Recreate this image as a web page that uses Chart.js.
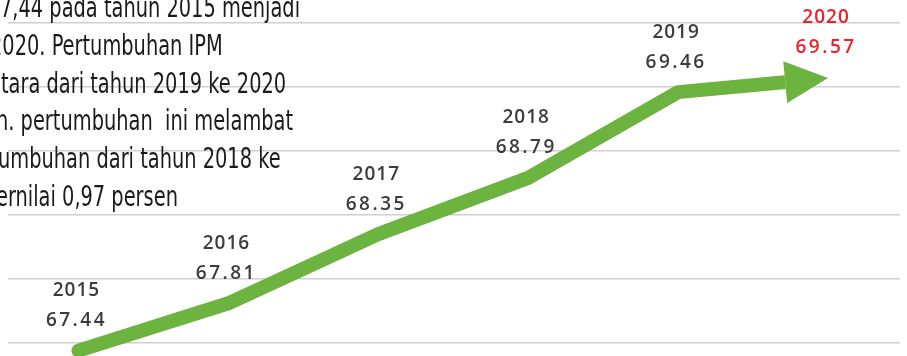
<!DOCTYPE html>
<html>
<head>
<meta charset="utf-8">
<script src="https://cdn.jsdelivr.net/npm/chart.js@4"></script>
<style>
  html, body { margin: 0; padding: 0; background: #fff; }
  #wrap { width: 907px; height: 356px; position: relative; }
</style>
</head>
<body>
<div id="wrap"><canvas id="ipmChart"></canvas></div>
<script>
// === DATA ===
const years = ["2015", "2016", "2017", "2018", "2019", "2020"];
const ipm = [67.44, 67.81, 68.35, 68.79, 69.46, 69.57];
const gridTicks = [67.5, 68, 68.5, 69, 69.5, 70];
const noteLines = [
    "7,44 pada tahun 2015 menjadi",
    "2020. Pertumbuhan IPM",
    "tara dari tahun 2019 ke 2020",
    "n. pertumbuhan  ini melambat",
    "umbuhan dari tahun 2018 ke",
    "ernilai 0,97 persen"
];
// where each paragraph line starts (some begin left of the canvas edge)
const noteStartX = [0, -10, 1, -4, -2, -4];

const GREEN = "#6cb33f";
const ARROW_LEN = 43;
const ARROW_HALF = 21;
const NOTE_SQUEEZE = 0.77;

// === HELPERS ===
function arrowGeometry(chart) {
    const xs = chart.scales.x, ys = chart.scales.y;
    const n = ipm.length;
    const ax = xs.getPixelForValue(n - 2), ay = ys.getPixelForValue(ipm[n - 2]);
    const tx = xs.getPixelForValue(n - 1), ty = ys.getPixelForValue(ipm[n - 1]);
    const ang = Math.atan2(ty - ay, tx - ax);
    const bx = tx - Math.cos(ang) * ARROW_LEN;
    const by = ty - Math.sin(ang) * ARROW_LEN;
    return { tx, ty, bx, by, ang };
}

// cut the line at the arrow base, then draw the arrow head
const arrowPlugin = {
    id: "arrowHead",
    beforeDatasetDraw(chart) {
        const g = arrowGeometry(chart);
        const ctx = chart.ctx;
        ctx.save();
        ctx.translate(g.bx, g.by);
        ctx.rotate(g.ang);
        ctx.beginPath();
        ctx.rect(-4000, -4000, 4000, 8000);
        ctx.rotate(-g.ang);
        ctx.translate(-g.bx, -g.by);
        ctx.clip();
    },
    afterDatasetDraw(chart) {
        const ctx = chart.ctx;
        ctx.restore();
        const g = arrowGeometry(chart);
        const px = -Math.sin(g.ang), py = Math.cos(g.ang);
        ctx.save();
        ctx.fillStyle = GREEN;
        ctx.beginPath();
        ctx.moveTo(g.tx, g.ty);
        ctx.lineTo(g.bx + px * ARROW_HALF, g.by + py * ARROW_HALF);
        ctx.lineTo(g.bx - px * ARROW_HALF, g.by - py * ARROW_HALF);
        ctx.closePath();
        ctx.fill();
        ctx.restore();
    }
};

// year + value above every point
const pointLabels = {
    id: "pointLabels",
    afterDatasetsDraw(chart) {
        const ctx = chart.ctx;
        const xs = chart.scales.x, ys = chart.scales.y;
        ctx.save();
        ctx.font = "600 19px 'Open Sans', sans-serif";
        ctx.textAlign = "center";
        ctx.textBaseline = "middle";
        years.forEach((yr, i) => {
            const x = xs.getPixelForValue(i) - 2;
            const y = ys.getPixelForValue(ipm[i]);
            ctx.fillStyle = i === years.length - 1 ? "#e8242b" : "#3c3c3c";
            ctx.letterSpacing = "1px";
            ctx.fillText(yr, x, y - 60);
            ctx.letterSpacing = "2.5px";
            ctx.fillText(ipm[i].toFixed(2), x, y - 30);
        });
        ctx.restore();
    }
};

// paragraph in the upper left
const notePlugin = {
    id: "note",
    beforeDatasetsDraw(chart) {
        const ctx = chart.ctx;
        ctx.save();
        ctx.scale(NOTE_SQUEEZE, 1);
        ctx.font = "28px 'Liberation Sans Narrow', 'DejaVu Sans Condensed', sans-serif";
        ctx.fillStyle = "#1a1a1a";
        ctx.textAlign = "left";
        ctx.textBaseline = "alphabetic";
        noteLines.forEach((t, i) => {
            ctx.fillText(t, noteStartX[i] / NOTE_SQUEEZE, 17 + i * 37.8);
        });
        ctx.restore();
    }
};

// === CHART ===
const ctx = document.getElementById("ipmChart").getContext("2d");

new Chart(ctx, {
    type: "line",
    data: {
        datasets: [{
            data: ipm.map((v, i) => ({ x: i, y: v })),
            borderColor: GREEN,
            borderWidth: 14,
            borderCapStyle: "round",
            borderJoinStyle: "round",
            pointRadius: 0,
            tension: 0,
            fill: false
        }]
    },
    options: {
        responsive: true,
        maintainAspectRatio: false,
        animation: false,
        layout: { padding: { left: 8, right: 7, top: 0, bottom: 0 } },
        plugins: { legend: { display: false }, tooltip: { enabled: false } },
        scales: {
            x: { type: "linear", min: -0.47, max: 5.48, display: false },
            y: {
                min: 67.398,
                max: 70.18,
                afterBuildTicks: s => { s.ticks = gridTicks.map(v => ({ value: v })); },
                afterFit: s => { s.width = 0; },
                ticks: { display: false },
                border: { display: false },
                grid: { color: "#d0d0d0", lineWidth: 1.5, drawTicks: false }
            }
        }
    },
    plugins: [notePlugin, arrowPlugin, pointLabels]
});
</script>
</body>
</html>
